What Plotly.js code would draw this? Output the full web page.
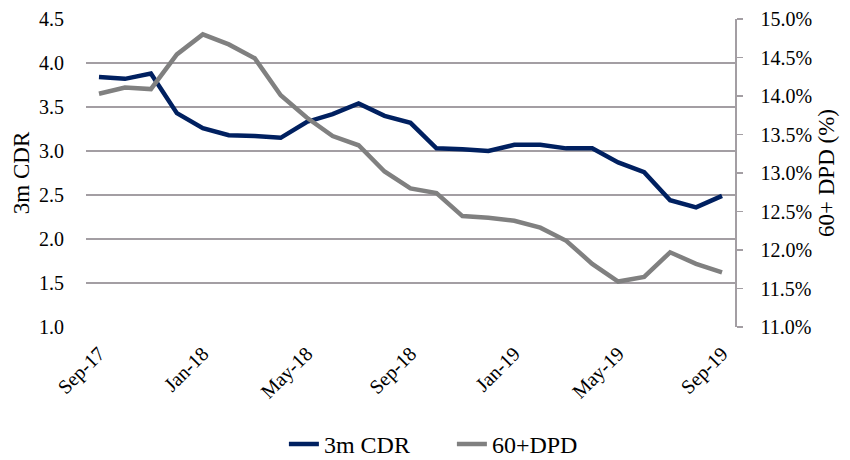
<!DOCTYPE html>
<html>
<head>
<meta charset="utf-8">
<script src="https://cdn.plot.ly/plotly-3.0.1.min.js"></script>
<style>
  body { margin: 0; background: #fff; }
  #plot { width: 850px; height: 460px; }
</style>
</head>
<body>
<div id="plot"></div>
<script>
// Monthly, Sep-17 .. Sep-19
var months = ["Sep-17","Oct-17","Nov-17","Dec-17","Jan-18","Feb-18","Mar-18","Apr-18",
	"May-18","Jun-18","Jul-18","Aug-18","Sep-18","Oct-18","Nov-18","Dec-18",
	"Jan-19","Feb-19","Mar-19","Apr-19","May-19","Jun-19","Jul-19","Aug-19","Sep-19"];

var cdr3m = [3.84, 3.82, 3.88, 3.43, 3.26, 3.18, 3.17, 3.15, 3.33, 3.42, 3.54, 3.40, 3.32,
	3.03, 3.02, 3.00, 3.07, 3.07, 3.03, 3.03, 2.87, 2.76, 2.44, 2.36, 2.49];

// 60+ days past due, percent
var dpd60 = [14.03, 14.11, 14.09, 14.54, 14.80, 14.67, 14.49, 14.01, 13.72, 13.48, 13.36, 13.02, 12.80,
	12.74, 12.44, 12.42, 12.38, 12.29, 12.12, 11.82, 11.59, 11.65, 11.97, 11.82, 11.71];

var tickMonths = ["Sep-17","Jan-18","May-18","Sep-18","Jan-19","May-19","Sep-19"];

var colors = ["#002060", "#808080"];
var gridColor = "#a39ea3";
var fontFamily = "'Liberation Serif', 'DejaVu Serif', serif";

var traces = [
	{
		x: months,
		y: cdr3m,
		name: "3m CDR",
		type: "scatter",
		mode: "lines",
		line: { color: colors[0], width: 4.5 },
		yaxis: "y"
	},
	{
		x: months,
		y: dpd60,
		name: "60+DPD",
		type: "scatter",
		mode: "lines",
		line: { color: colors[1], width: 4.5 },
		yaxis: "y2"
	}
];

var layout = {
	width: 850,
	height: 460,
	margin: { l: 86, r: 115, t: 19, b: 133 },
	paper_bgcolor: "#fff",
	plot_bgcolor: "#fff",
	font: { family: fontFamily, size: 20, color: "#000" },
	showlegend: true,
	legend: {
		orientation: "h",
		xref: "container",
		yref: "container",
		x: 0.334,
		xanchor: "left",
		y: 0.034,
		yanchor: "middle",
		entrywidth: 123,
		font: { size: 24 },
		traceorder: "normal"
	},
	xaxis: {
		type: "category",
		range: [-0.5, 24.5],
		tickmode: "array",
		tickvals: tickMonths,
		ticktext: tickMonths,
		tickangle: -45,
		automargin: false,
		showgrid: false,
		zeroline: false,
		showline: false,
		ticks: "",
		ticklabelstandoff: 10,
		tickfont: { size: 20 }
	},
	yaxis: {
		range: [1, 4.5],
		dtick: 0.5,
		tickformat: ".1f",
		automargin: false,
		showgrid: true,
		gridcolor: gridColor,
		gridwidth: 1.5,
		zeroline: false,
		showline: false,
		ticks: "",
		ticklabelstandoff: 21,
		title: { text: "3m CDR", font: { size: 23 }, standoff: 2 }
	},
	yaxis2: {
		range: [11, 15],
		dtick: 0.5,
		tickformat: ".1f",
		ticksuffix: "%",
		overlaying: "y",
		side: "right",
		automargin: false,
		showgrid: false,
		zeroline: false,
		showline: true,
		linecolor: gridColor,
		linewidth: 1.5,
		ticks: "outside",
		ticklen: 6,
		tickcolor: gridColor,
		tickwidth: 1.5,
		ticklabelstandoff: 14,
		title: { text: "60+ DPD (%)", font: { size: 23 }, standoff: 6 }
	}
};

Plotly.newPlot("plot", traces, layout, { displayModeBar: false, staticPlot: true });
</script>
</body>
</html>
